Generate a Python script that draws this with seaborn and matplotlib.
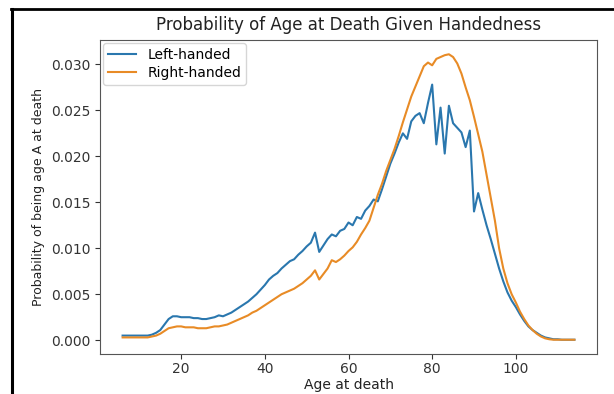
import numpy as np
import pandas as pd
import matplotlib
matplotlib.use("Agg")
import matplotlib.pyplot as plt
from matplotlib.lines import Line2D
import seaborn as sns

ages = list(range(6, 115))
left_handed = [
    0.0005, 0.0005, 0.0005, 0.0005, 0.0005, 0.0005, 0.0005, 0.0006, 0.0008, 0.0011,
    0.0017, 0.0023, 0.0026, 0.0026, 0.0025, 0.0025, 0.0025, 0.0024, 0.0024, 0.0023,
    0.0023, 0.0024, 0.0025, 0.0027, 0.0026, 0.0028, 0.0030, 0.0033, 0.0036, 0.0039,
    0.0042, 0.0046, 0.0050, 0.0055, 0.0060, 0.0066, 0.0070, 0.0073, 0.0078, 0.0082,
    0.0086, 0.0088, 0.0093, 0.0097, 0.0102, 0.0106, 0.0117, 0.0096, 0.0103, 0.0110,
    0.0115, 0.0113, 0.0119, 0.0121, 0.0128, 0.0125, 0.0134, 0.0132, 0.0141, 0.0146,
    0.0153, 0.0151, 0.0164, 0.0178, 0.0192, 0.0203, 0.0215, 0.0225, 0.0219, 0.0238,
    0.0244, 0.0247, 0.0236, 0.0258, 0.0278, 0.0213, 0.0253, 0.0203, 0.0255, 0.0236,
    0.0231, 0.0226, 0.0210, 0.0228, 0.0140, 0.0160, 0.0142, 0.0125, 0.0110, 0.0094,
    0.0078, 0.0064, 0.0052, 0.0043, 0.0036, 0.0028, 0.0021, 0.0015, 0.0011, 0.0008,
    0.0005, 0.0003, 0.0002, 0.0001, 0.0001, 0.00005, 0.00005, 0.00005, 0.00005,
]
right_handed = [
    0.0003, 0.0003, 0.0003, 0.0003, 0.0003, 0.0003, 0.0003, 0.0004, 0.0005, 0.0007,
    0.0010, 0.0013, 0.0014, 0.0015, 0.0015, 0.0014, 0.0014, 0.0014, 0.0013, 0.0013,
    0.0013, 0.0014, 0.0015, 0.0015, 0.0016, 0.0017, 0.0019, 0.0021, 0.0023, 0.0025,
    0.0027, 0.0030, 0.0032, 0.0035, 0.0038, 0.0041, 0.0044, 0.0047, 0.0050, 0.0052,
    0.0054, 0.0056, 0.0059, 0.0062, 0.0066, 0.0070, 0.0076, 0.0066, 0.0072, 0.0078,
    0.0087, 0.0085, 0.0088, 0.0092, 0.0097, 0.0101, 0.0107, 0.0115, 0.0122, 0.0130,
    0.0144, 0.0158, 0.0170, 0.0184, 0.0196, 0.0208, 0.0222, 0.0237, 0.0251, 0.0265,
    0.0276, 0.0287, 0.0298, 0.0302, 0.0299, 0.0306, 0.0308, 0.0310, 0.0311, 0.0308,
    0.0301, 0.0290, 0.0275, 0.0261, 0.0243, 0.0224, 0.0205, 0.0180, 0.0155, 0.0130,
    0.0100, 0.0078, 0.0062, 0.0050, 0.0041, 0.0031, 0.0023, 0.0016, 0.0011, 0.0007,
    0.0004, 0.0002, 0.0001, 0.00005, 0.00005, 0.00005, 0.00005, 0.00005, 0.00005,
]
series_names = ["Left-handed", "Right-handed"]
title = "Probability of Age at Death Given Handedness"
xlabel = "Age at death"
ylabel = "Probability of being age A at death"

df = pd.concat([
    pd.DataFrame({"age": ages, "p": left_handed, "hand": series_names[0]}),
    pd.DataFrame({"age": ages, "p": right_handed, "hand": series_names[1]}),
])

fig = plt.figure(figsize=(6.14, 3.94), dpi=100)
ax = fig.add_axes([100 / 614, 40 / 394, 497 / 614, 314 / 394])
sns.lineplot(data=df, x="age", y="p", hue="hand", ax=ax,
             palette=["#2a77ae", "#e88b26"], linewidth=1.5)

ax.set_title(title, fontsize=12, color="#222222", pad=7)
ax.set_xlabel(xlabel, fontsize=10, color="#222222", labelpad=1)
ax.set_ylabel(ylabel, fontsize=9, color="#222222")
ax.set_xticks([20, 40, 60, 80, 100])
ax.set_yticks([0.0, 0.005, 0.010, 0.015, 0.020, 0.025, 0.030])
ax.yaxis.set_major_formatter(matplotlib.ticker.FormatStrFormatter("%.3f"))
ax.tick_params(labelsize=10, colors="#333333")
ax.tick_params(axis="x", pad=2.5)
for s in ax.spines.values():
    s.set_color("#555555")
ax.legend(loc="upper left", fontsize=10, title=None, labelspacing=0.25,
          borderaxespad=0.25, borderpad=0.35)

# screenshot frame
fig.add_artist(Line2D([11.5 / 614, 11.5 / 614], [0, 1 - 9 / 394],
                      color="black", linewidth=2.2, transform=fig.transFigure))
fig.add_artist(Line2D([10.5 / 614, 1], [1 - 9 / 394, 1 - 9 / 394],
                      color="black", linewidth=2.0, transform=fig.transFigure))

fig.savefig("out.png", dpi=100)
